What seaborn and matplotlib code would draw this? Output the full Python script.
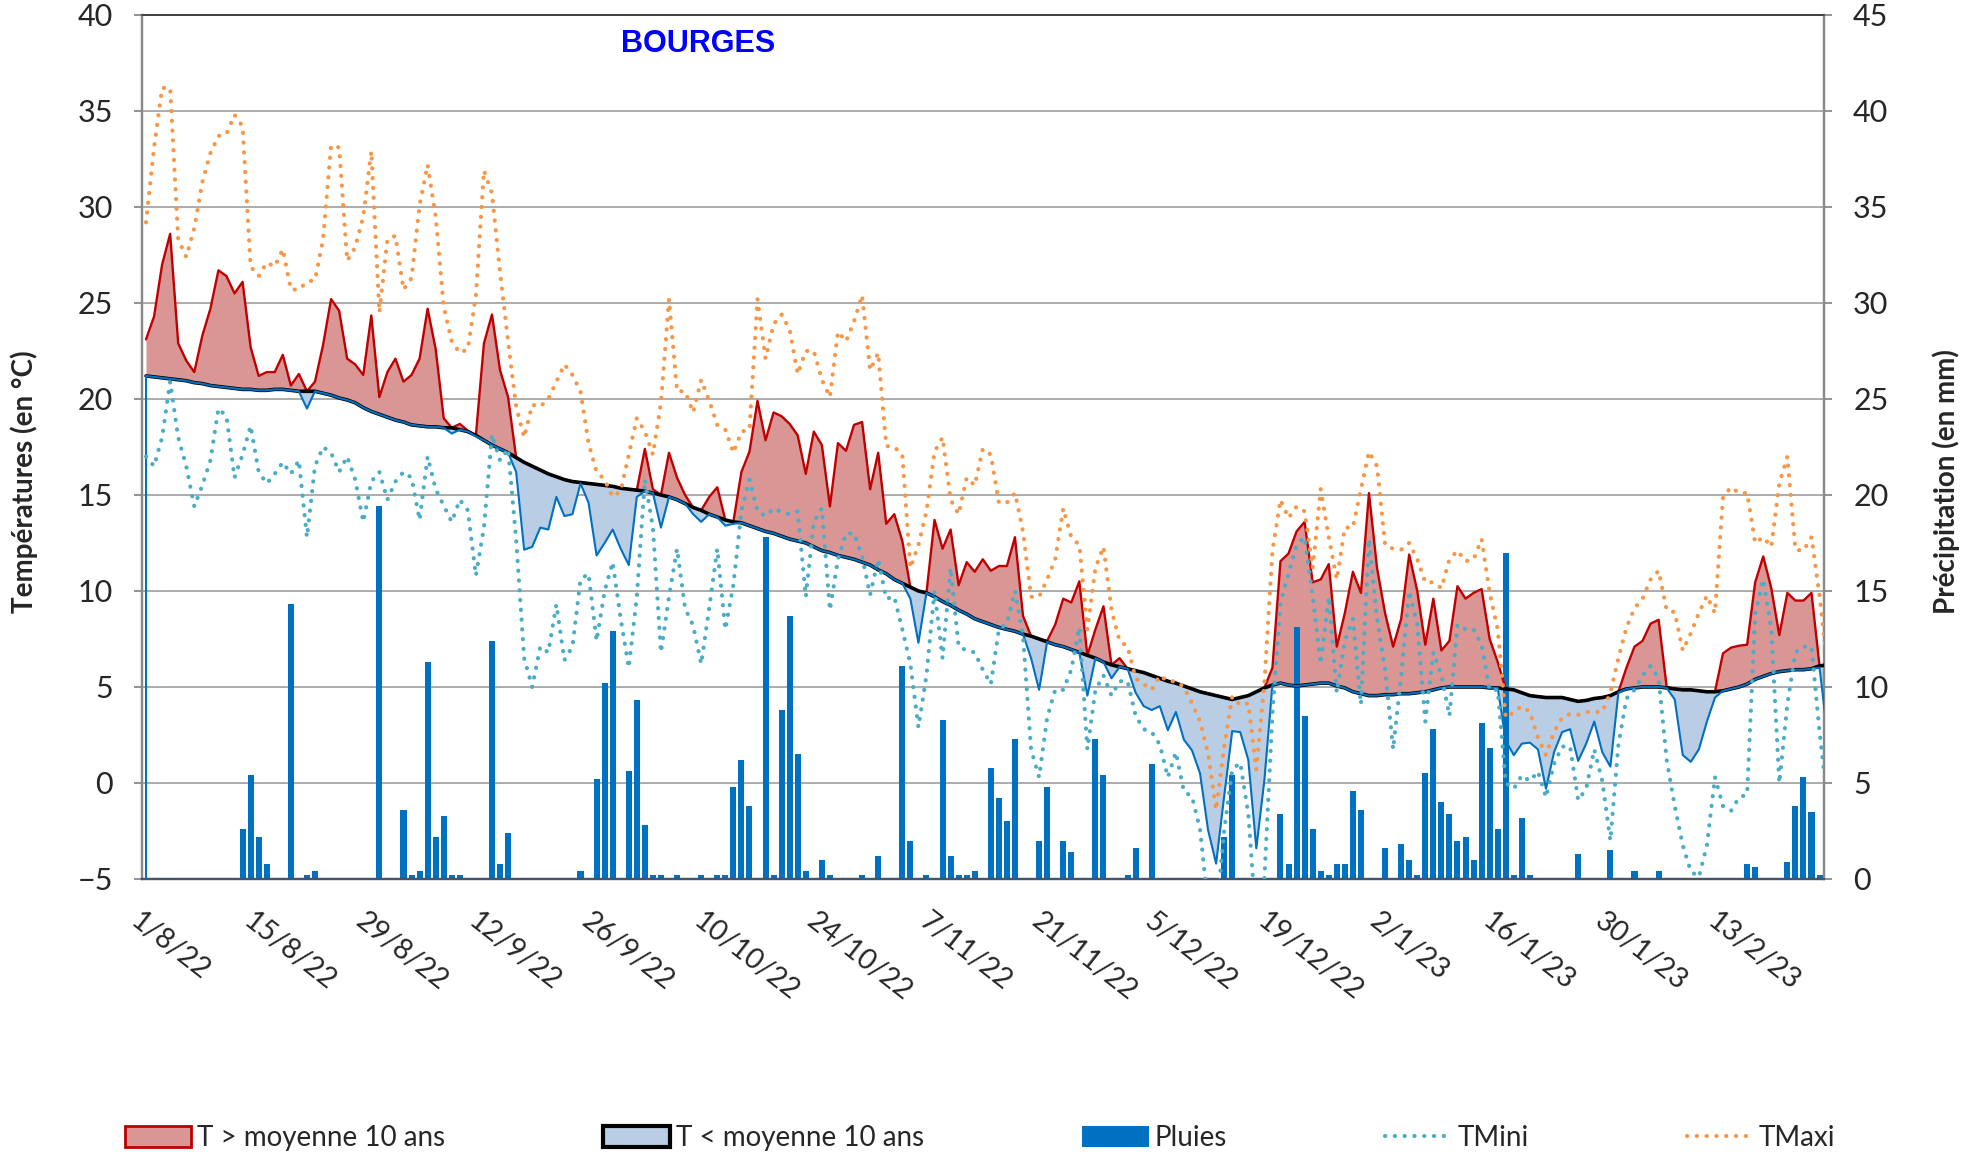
import numpy as np
import pandas as pd
import matplotlib
matplotlib.use("Agg")
import matplotlib.pyplot as plt
from matplotlib.patches import Patch
from matplotlib.lines import Line2D
from matplotlib.transforms import ScaledTranslation
import seaborn as sns

# daily values from 1/8/22
start = "2022-08-01"

t_day = [
    23.1, 24.3, 27.0, 28.6, 22.9, 22.0, 21.4, 23.3, 24.7, 26.7, 26.4, 25.5, 26.1, 22.7, 21.2, 21.4, 21.4, 22.3, 20.7, 21.3, 19.5, 20.9, 22.8, 25.2, 24.6, 22.1, 21.8,
    21.25, 24.35, 20.1, 21.4, 22.1, 20.9, 21.25, 22.1, 24.7, 22.6, 19.0, 18.2, 18.7, 18.35, 18.05, 22.9, 24.4, 21.5, 20.1, 16.2, 12.15, 12.3, 13.3, 13.2, 14.9, 13.9,
    14.0, 15.6, 14.6, 11.85, 12.5, 13.2, 12.2, 11.35, 14.9, 17.4, 15.3, 13.3, 17.2, 15.9, 15.0, 14.0, 13.6, 14.9, 15.4, 13.4, 13.5, 16.2, 17.25, 19.9, 17.85, 19.3,
    19.1, 18.7, 18.1, 16.1, 18.3, 17.6, 14.4, 17.7, 17.3, 18.65, 18.8, 15.3, 17.2, 13.5, 14.0, 12.6, 9.6, 7.3, 9.9, 13.7, 12.2, 13.2, 10.3, 11.5, 11.0, 11.65, 11.05,
    11.3, 11.3, 12.8, 8.7, 6.5, 4.85, 7.4, 8.25, 9.6, 9.4, 10.5, 4.55, 8.0, 9.2, 5.45, 6.5, 5.95, 4.7, 4.0, 3.8, 4.0, 2.75, 3.7, 2.25, 1.7, 0.5,
    -2.45, -4.2, -0.7, 2.7, 2.65, 1.2, -3.4, 0.15, 6.0, 11.55, 11.95, 13.1, 13.6, 10.45, 10.6, 11.4, 7.1, 8.85, 11.0, 9.9, 15.1, 11.2, 8.85, 7.1, 8.55, 11.9,
    10.0, 7.2, 9.6, 6.9, 7.4, 10.25, 9.6, 9.9, 10.1, 7.5, 6.3, 2.2, 1.45, 2.05, 2.1, 1.75, -0.3, 1.6, 2.65, 2.8, 1.15, 2.05, 3.2, 1.6, 0.85, 4.7,
    6.0, 7.1, 7.4, 8.3, 8.5, 5.0, 4.35, 1.45, 1.1, 1.75, 3.2, 4.45, 6.75, 7.05, 7.15, 7.2, 10.45, 11.8, 10.15, 7.7, 9.9, 9.5, 9.5, 9.9, 6.0, 2.5,
]

t_norm = [
    21.2, 21.15, 21.1, 21.05, 21.0, 20.95, 20.85, 20.8, 20.7, 20.65, 20.6, 20.55, 20.5, 20.5, 20.45, 20.45, 20.5, 20.5, 20.45, 20.4, 20.4, 20.4, 20.3, 20.2, 20.05, 19.95, 19.8,
    19.55, 19.35, 19.2, 19.05, 18.9, 18.8, 18.65, 18.6, 18.55, 18.55, 18.5, 18.5, 18.4, 18.3, 18.1, 17.85, 17.6, 17.4, 17.2, 16.95, 16.7, 16.5, 16.3, 16.1, 15.95, 15.8,
    15.7, 15.65, 15.6, 15.55, 15.5, 15.45, 15.35, 15.3, 15.25, 15.2, 15.1, 15.0, 14.9, 14.75, 14.55, 14.35, 14.2, 14.0, 13.85, 13.7, 13.6, 13.55, 13.4, 13.25, 13.1, 13.0,
    12.85, 12.7, 12.6, 12.5, 12.3, 12.1, 12.0, 11.85, 11.75, 11.65, 11.5, 11.35, 11.1, 10.9, 10.6, 10.4, 10.2, 10.0, 9.9, 9.7, 9.45, 9.25, 9.0, 8.8, 8.55, 8.4, 8.25,
    8.1, 8.0, 7.9, 7.75, 7.65, 7.5, 7.35, 7.2, 7.1, 6.95, 6.8, 6.65, 6.5, 6.3, 6.15, 6.05, 5.95, 5.85, 5.75, 5.6, 5.45, 5.3, 5.2, 5.05, 4.9, 4.75,
    4.65, 4.55, 4.45, 4.35, 4.45, 4.55, 4.75, 4.95, 5.1, 5.2, 5.1, 5.05, 5.1, 5.15, 5.2, 5.2, 5.05, 4.95, 4.75, 4.65, 4.55, 4.55, 4.6, 4.6, 4.65, 4.65,
    4.7, 4.75, 4.85, 4.95, 5.0, 5.0, 5.0, 5.0, 5.0, 4.95, 4.95, 4.9, 4.85, 4.7, 4.55, 4.5, 4.45, 4.45, 4.45, 4.35, 4.25, 4.3, 4.4, 4.45, 4.55, 4.75,
    4.9, 4.95, 5.0, 5.0, 5.0, 4.95, 4.9, 4.85, 4.85, 4.8, 4.75, 4.75, 4.8, 4.9, 5.0, 5.15, 5.4, 5.55, 5.7, 5.8, 5.85, 5.9, 5.9, 5.95, 6.1, 6.15,
]

t_min = [
    17.0, 16.5, 18.0, 20.9, 18.0, 16.5, 14.4, 15.5, 16.8, 19.5, 19.1, 15.9, 17.1, 18.6, 16.2, 15.6, 16.1, 16.7, 16.1, 16.8, 12.8, 16.5, 17.5, 17.2, 16.2, 17.0, 15.8,
    13.6, 15.7, 16.2, 14.75, 15.7, 16.2, 15.9, 13.7, 17.0, 15.3, 14.45, 13.6, 14.75, 14.2, 10.8, 13.3, 18.15, 16.8, 17.4, 12.7, 6.5, 5.0, 7.1, 6.8, 9.3, 6.4,
    7.1, 10.6, 10.9, 7.4, 10.0, 11.5, 8.55, 6.0, 9.7, 15.8, 13.3, 6.8, 9.7, 12.2, 9.1, 8.2, 6.2, 9.1, 12.2, 8.0, 10.3, 14.15, 15.8, 14.15, 13.9, 14.3,
    14.1, 14.0, 14.15, 9.7, 13.6, 14.3, 9.0, 11.65, 13.0, 13.0, 11.8, 9.8, 11.65, 9.6, 9.7, 8.0, 6.2, 2.9, 5.6, 10.0, 6.5, 11.2, 7.1, 6.9, 6.8, 5.9, 5.15,
    8.0, 8.3, 10.0, 7.65, 1.75, 0.3, 3.4, 4.85, 4.85, 5.9, 8.1, 1.75, 4.85, 5.6, 4.55, 5.3, 5.3, 3.5, 2.8, 2.65, 2.0, 0.3, 1.6, -0.45, -0.7, -2.4,
    -6.4, -7.0, -2.5, 0.7, 1.05, -1.6, -7.4, -5.0, 3.6, 9.4, 10.9, 12.4, 12.8, 9.7, 6.2, 9.7, 4.7, 7.4, 8.55, 4.1, 12.7, 8.55, 5.9, 1.75, 5.6, 10.0,
    8.25, 3.2, 6.8, 5.6, 3.5, 8.25, 8.0, 8.0, 7.2, 4.85, 4.85, 0.0, -0.3, 0.4, 0.1, 0.6, -0.75, 1.0, 1.9, 1.9, -0.9, -0.3, 1.75, 0.1, -3.0, 2.0,
    4.4, 4.85, 5.6, 6.1, 5.45, 1.2, -1.2, -3.25, -4.6, -4.9, -3.25, 0.3, -1.2, -1.45, -0.75, -0.6, 8.85, 10.6, 8.0, 0.0, 4.1, 6.8, 7.1, 7.1, 2.65, -1.0,
]

t_max = [
    29.2, 33.1, 36.2, 36.2, 28.3, 27.4, 28.9, 31.3, 32.8, 33.7, 33.8, 34.8, 34.2, 26.9, 26.4, 27.1, 26.9, 27.8, 25.7, 25.7, 26.1, 26.2, 28.3, 33.2, 33.1, 27.2, 27.9,
    29.5, 32.9, 24.5, 28.3, 28.5, 25.7, 26.3, 30.1, 32.2, 29.5, 24.8, 23.0, 22.4, 22.6, 25.4, 31.9, 30.7, 26.6, 23.0, 19.6, 18.0, 19.7, 19.6, 20.0, 20.9, 21.8,
    21.25, 20.4, 17.7, 16.2, 15.8, 14.9, 15.2, 17.1, 19.0, 18.3, 17.1, 19.8, 25.2, 20.4, 20.4, 19.3, 21.0, 19.9, 18.65, 18.4, 17.2, 18.3, 18.4, 25.2, 22.1, 23.9,
    24.4, 23.6, 21.3, 22.5, 22.5, 21.0, 20.1, 23.5, 23.0, 24.05, 25.4, 21.5, 22.4, 17.55, 17.5, 17.1, 11.2, 12.4, 14.15, 17.25, 18.0, 14.75, 14.0, 15.9, 15.5, 17.4, 17.1,
    14.6, 14.6, 15.1, 13.1, 9.7, 9.7, 10.6, 11.65, 14.3, 12.8, 12.4, 8.0, 11.2, 12.3, 9.0, 7.4, 7.1, 5.45, 5.15, 4.85, 5.6, 5.3, 5.3, 5.0, 4.15, 3.2,
    1.55, -1.4, 1.9, 4.5, 4.05, 4.15, 0.7, 5.2, 12.1, 14.75, 13.8, 14.4, 14.15, 11.2, 15.3, 12.8, 10.6, 13.3, 13.3, 15.3, 17.25, 16.5, 12.4, 12.2, 12.15, 12.5,
    11.65, 10.45, 10.45, 10.15, 11.65, 12.1, 11.55, 11.65, 12.7, 9.9, 8.0, 3.4, 3.7, 4.0, 3.7, 2.35, 1.45, 2.65, 3.4, 3.6, 3.55, 3.7, 3.7, 3.7, 4.7, 6.5,
    8.1, 9.1, 9.6, 10.6, 11.05, 9.0, 8.9, 6.9, 7.8, 8.85, 9.75, 8.85, 14.9, 15.4, 15.1, 15.1, 12.5, 12.8, 12.3, 15.6, 17.0, 12.15, 12.1, 12.8, 9.75, 6.0,
]

rain_mm = [
    0, 0, 0, 0, 0, 0, 0, 0, 0, 0,
    0, 0, 2.6, 5.4, 2.2, 0.8, 0, 0, 14.3, 0,
    0.2, 0.4, 0, 0, 0, 0, 0, 0, 0, 19.4,
    0, 0, 3.6, 0.2, 0.4, 11.3, 2.2, 3.3, 0.2, 0.2,
    0, 0, 0, 12.4, 0.8, 2.4, 0, 0, 0, 0,
    0, 0, 0, 0, 0.4, 0, 5.2, 10.2, 12.9, 0,
    5.6, 9.3, 2.8, 0.2, 0.2, 0, 0.2, 0, 0, 0.2,
    0, 0.2, 0.2, 4.8, 6.2, 3.8, 0, 17.8, 0.2, 8.8,
    13.7, 6.5, 0.4, 0, 1.0, 0.2, 0, 0, 0, 0.2,
    0, 1.2, 0, 0, 11.1, 2.0, 0, 0.2, 0, 8.3,
    1.2, 0.2, 0.2, 0.4, 0, 5.8, 4.2, 3.0, 7.3, 0,
    0, 2.0, 4.8, 0, 2.0, 1.4, 0, 0, 7.3, 5.4,
    0, 0, 0.2, 1.6, 0, 6.0, 0, 0, 0, 0,
    0, 0, 0, 0, 2.2, 5.4, 0, 0, 0, 0,
    0, 3.4, 0.8, 13.1, 8.5, 2.6, 0.4, 0.2, 0.8, 0.8,
    4.6, 3.6, 0, 0, 1.6, 0, 1.8, 1.0, 0.2, 5.5,
    7.8, 4.0, 3.4, 2.0, 2.2, 1.0, 8.1, 6.8, 2.6, 17.0,
    0.2, 3.2, 0.2, 0, 0, 0, 0, 0, 1.3, 0,
    0, 0, 1.5, 0, 0, 0.4, 0, 0, 0.4, 0,
    0, 0, 0, 0, 0, 0, 0, 0, 0, 0.8,
    0.6, 0, 0, 0, 0.9, 3.8, 5.3, 3.5, 0.2, 0,
]

n = len(t_day)
df = pd.DataFrame({
    "day": np.arange(n) + 0.5,
    "T": t_day,
    "norm": t_norm,
    "TMini": t_min,
    "TMaxi": t_max,
    "Pluies": rain_mm,
})
df["above"] = np.maximum(df["T"], df["norm"])
df["below"] = np.minimum(df["T"], df["norm"])

tick_days = np.arange(0, n - 10, 14)
tick_dates = pd.date_range(start, periods=n, freq="D")[tick_days]
tick_labels = [f"{d.day}/{d.month}/{d.strftime('%y')}" for d in tick_dates]

sns.set_theme(style="white")
plt.rcParams["font.family"] = ["Lato", "DejaVu Sans"]

red_fill, red_line = "#D99694", "#C00000"
blue_fill, blue_line = "#B9CDE5", "#0070C0"
c_min, c_max = "#4BACC6", "#F79646"
grid_c = "#A6A6A6"

fig = plt.figure(figsize=(19.64, 11.52), dpi=100)
ax = fig.add_axes([0.0723, 0.237, 0.8564, 0.750])
ylo, yhi = -5, 40
xmax = 209.05

ax.set_xlim(0, xmax)
ax.set_ylim(ylo, yhi)
ax.set_yticks(np.arange(ylo, yhi + 1, 5))
ax.yaxis.grid(True, color=grid_c, lw=1.3)
ax.set_axisbelow(True)

ax.fill_between(df["day"], df["norm"], df["above"], color=red_fill, lw=0)
ax.fill_between(df["day"], df["below"], df["norm"], color=blue_fill, lw=0)

# rain on the right axis, above the fills
ax2 = ax.twinx()
ax2.set_zorder(ax.get_zorder() + 1)
ax2.patch.set_visible(False)
ax2.bar(df["day"], df["Pluies"], width=0.75, color=blue_line, lw=0)
ax2.set_ylim(0, 45)
ax2.set_yticks(np.arange(0, 46, 5))
ax2.set_xlim(0, xmax)

# temperature lines on top
ax3 = ax.twinx()
ax3.set_zorder(ax2.get_zorder() + 1)
ax3.patch.set_visible(False)
ax3.set_ylim(ylo, yhi)
ax3.set_xlim(0, xmax)
sns.lineplot(data=df, x="day", y="above", ax=ax3, color=red_line, lw=1.7)
sns.lineplot(data=df, x="day", y="norm", ax=ax3, color="black", lw=2.6)
ax3.plot(np.r_[df["day"].iloc[0], df["day"]], np.r_[ylo, df["below"]], color=blue_line, lw=1.5)
dots = (0, (0.05, 2.3))
sns.lineplot(data=df, x="day", y="TMini", ax=ax3, color=c_min, lw=3.0,
             linestyle=dots, dash_capstyle="round")
sns.lineplot(data=df, x="day", y="TMaxi", ax=ax3, color=c_max, lw=3.0,
             linestyle=dots, dash_capstyle="round")
ax3.axis("off")

# axes styling
for a in (ax, ax2):
    for side in ("left", "right"):
        a.spines[side].set_color("#898989")
        a.spines[side].set_linewidth(1.6)
    a.spines["top"].set_color("#404040")
    a.spines["top"].set_linewidth(1.2)
    a.spines["bottom"].set_color("#46546A")
    a.spines["bottom"].set_linewidth(1.6)

ax.set_xticks(tick_days)
ax.set_xticklabels(tick_labels, rotation=-38, ha="left", va="top",
                   rotation_mode="anchor", fontsize=20.5)
shift = ScaledTranslation(0.12, 0, fig.dpi_scale_trans)
for lab in ax.get_xticklabels():
    lab.set_transform(lab.get_transform() + shift)
ax.tick_params(axis="x", direction="out", length=7, width=1.3, color="#898989", pad=14)
ax.tick_params(axis="y", direction="out", length=6, width=1.3, color="#898989",
               labelsize=22, pad=15, left=True)
ax2.tick_params(axis="y", direction="out", length=6, width=1.3, color="#898989",
                labelsize=22, pad=15, right=True)

ax.set_ylabel("Températures (en °C)", fontsize=20, fontweight="bold")
ax.yaxis.set_label_coords(-0.062, 0.46)
ax2.set_ylabel("Précipitation (en mm)", fontsize=20, fontweight="bold", rotation=90)
ax2.yaxis.set_label_coords(1.0645, 0.46)

ax.text(0.3306, 0.966, "BOURGES", transform=ax.transAxes, ha="center", va="center",
        color="#0000FF", fontsize=22, fontweight="bold", family="Liberation Sans")

handles = [
    Patch(facecolor=red_fill, edgecolor=red_line, lw=2),
    Patch(facecolor=blue_fill, edgecolor="black", lw=3),
    Patch(facecolor=blue_line, edgecolor=blue_line, lw=0),
    Line2D([], [], color=c_min, lw=3.0, linestyle=dots, dash_capstyle="round"),
    Line2D([], [], color=c_max, lw=3.0, linestyle=dots, dash_capstyle="round"),
]
labels = ["T > moyenne 10 ans", "T < moyenne 10 ans", "Pluies", "TMini", "TMaxi"]
fig.legend(handles, labels, loc="center", bbox_to_anchor=(0.499, 0.012), ncol=5,
           frameon=False, fontsize=20, handlelength=2.4, handleheight=0.8,
           handletextpad=0.2, columnspacing=5.7)

fig.savefig("out.png", dpi=100)
